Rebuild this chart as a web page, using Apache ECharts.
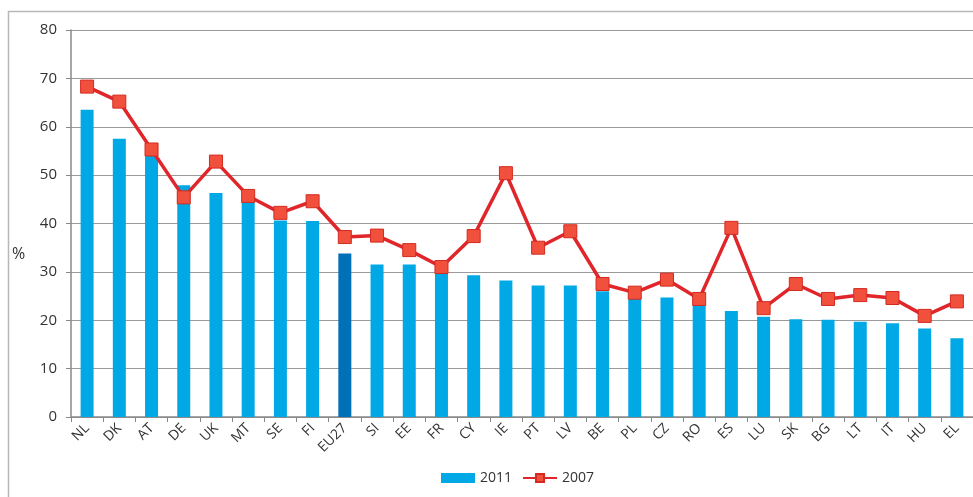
<!DOCTYPE html>
<html>
<head>
<meta charset="utf-8">
<script src="https://cdn.jsdelivr.net/npm/echarts@6/dist/echarts.min.js"></script>
<style>
  html, body { margin: 0; padding: 0; background: #fff; }
  #chart { width: 973px; height: 497px; }
</style>
</head>
<body>
<div id="chart"></div>
<script>
// country codes, sorted by 2011 value
const categories = ['NL', 'DK', 'AT', 'DE', 'UK', 'MT', 'SE', 'FI', 'EU27', 'SI', 'EE', 'FR', 'CY', 'IE',
  'PT', 'LV', 'BE', 'PL', 'CZ', 'RO', 'ES', 'LU', 'SK', 'BG', 'LT', 'IT', 'HU', 'EL']

const values2011 = [63.5, 57.5, 54.5, 47.9, 46.3, 45.0, 40.6, 40.5, 33.8, 31.5, 31.5, 30.3, 29.3, 28.2,
  27.2, 27.2, 26.0, 24.9, 24.7, 23.3, 21.9, 20.7, 20.2, 20.1, 19.7, 19.4, 18.3, 16.3]

const values2007 = [68.3, 65.2, 55.3, 45.4, 52.8, 45.7, 42.2, 44.6, 37.2, 37.5, 34.5, 31.0, 37.4, 50.4,
  35.0, 38.4, 27.5, 25.7, 28.4, 24.4, 39.1, 22.5, 27.5, 24.4, 25.2, 24.6, 20.9, 23.9]

const seriesNames = ['2011', '2007']

const chart = echarts.init(document.getElementById('chart'))

const barColor = '#00a9e6'
const euColor = '#0070b8'
const lineColor = '#e0262a'

const option = {
  animation: false,
  textStyle: { fontFamily: 'Open Sans, DejaVu Sans, sans-serif' },
  graphic: [
    {
      type: 'polyline',
      shape: { points: [[8.5, 500], [8.5, 11.5], [980, 11.5]] },
      style: { stroke: '#b8b8b8', lineWidth: 1.5, fill: null },
      silent: true,
    },
    {
      type: 'text',
      left: 12,
      top: 246,
      style: { text: '%', fontSize: 16, fill: '#333', fontFamily: 'Open Sans, sans-serif' },
    },
  ],
  grid: { left: 71, right: -6, top: 30, bottom: 80 },
  legend: {
    bottom: 7,
    left: 436,
    itemGap: 10,
    itemWidth: 34,
    itemHeight: 10,
    textStyle: { fontSize: 14, color: '#333' },
    data: [
      { name: seriesNames[0], icon: 'rect' },
      { name: seriesNames[1] },
    ],
  },
  xAxis: {
    type: 'category',
    data: categories,
    axisLine: { lineStyle: { color: '#888', width: 1.5 } },
    axisTick: { show: true, length: 5, lineStyle: { color: '#888' } },
    axisLabel: { rotate: 45, fontSize: 14, color: '#333', margin: 9, interval: 0 },
  },
  yAxis: {
    type: 'value',
    min: 0,
    max: 80,
    interval: 10,
    axisLine: { show: true, lineStyle: { color: '#888', width: 1.5 } },
    axisTick: { show: true, length: 5, lineStyle: { color: '#888' } },
    axisLabel: { fontSize: 15, color: '#333', margin: 14 },
    splitLine: { lineStyle: { color: '#9a9a9a', width: 1 } },
  },
  series: [
    {
      name: seriesNames[0],
      type: 'bar',
      barWidth: 13,
      itemStyle: { color: barColor },
      data: values2011.map((v, i) =>
        categories[i] === 'EU27' ? { value: v, itemStyle: { color: euColor } } : v
      ),
    },
    {
      name: seriesNames[1],
      type: 'line',
      data: values2007,
      symbol: 'rect',
      symbolSize: 13,
      lineStyle: { color: lineColor, width: 3.5 },
      itemStyle: { color: '#f0503c', borderColor: '#d42a20', borderWidth: 1 },
    },
  ],
}

chart.setOption(option)
</script>
</body>
</html>
